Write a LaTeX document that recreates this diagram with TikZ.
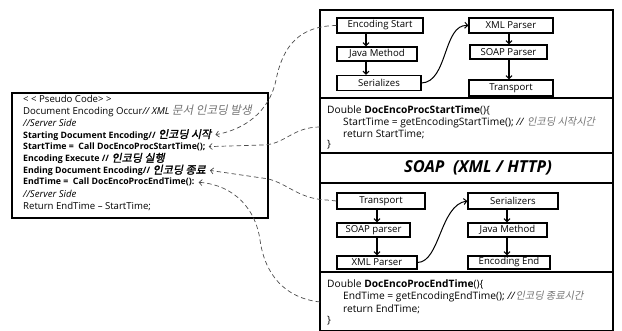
\documentclass[tikz,border=0pt]{standalone}
\usepackage{fontspec}
\setmainfont{Open Sans}
\newfontfamily\kr{Noto Sans CJK KR}[FakeSlant=0.2]
\newfontfamily\krb{Noto Sans CJK KR}[FakeSlant=0.2,FakeBold=1.5]
\usetikzlibrary{arrows.meta}
\tikzset{
  fbox/.style={draw, line width=1.2pt, fill=white, inner sep=0pt, font=\fontsize{9.6}{10}\selectfont},
  ln/.style={anchor=west, inner sep=0pt, font=\fontsize{9.6}{10}\selectfont},
  cd/.style={anchor=west, inner sep=0pt, font=\fontsize{10.2}{11}\selectfont},
  dn/.style={-{Straight Barb[length=3pt,width=6pt]}, line width=1.1pt},
  cv/.style={-{Straight Barb[length=3pt,width=6pt]}, line width=1pt},
  dsh/.style={draw=black!70, line width=0.7pt, dash pattern=on 4.5pt off 3pt},
  dsha/.style={dsh, -{Straight Barb[length=3pt,width=6pt]}},
  frame/.style={line width=1.1pt},
}
\newcommand{\kc}[1]{{\color{black!55}\kr #1}}
\newcommand{\klc}[1]{{\color{black!55}\fontsize{11.6}{10}\selectfont\kr #1}}
\newcommand{\klb}[1]{{\fontsize{11}{10}\selectfont\krb #1}}
\newcommand{\bl}[1]{{\fontsize{8.8}{10}\selectfont\bfseries #1}}
\begin{document}
\begin{tikzpicture}[x=1pt,y=-1pt]
\useasboundingbox (0,0) rectangle (622,331);
% left pseudo code box
\draw[frame] (12,93) rectangle (268,218);
\node[ln] (l1) at (23,99) {<~<~Pseudo Code>~>};
\node[ln] (l2) at (23,110.9) {Document Encoding Occur\textit{// XML} \klc{문서 인코딩 발생}};
\node[ln] (l3) at (23,122.8) {\textit{//Server Side}};
\node[ln] (l4) at (23,134.7) {\bl{Starting Document Encoding//} \klb{인코딩 시작}};
\node[ln] (l5) at (23,146.6) {\bl{StartTime =~~Call DocEncoProcStartTime();}};
\node[ln] (l6) at (23,158.5) {\bl{Encoding Execute //} \klb{인코딩 실행}};
\node[ln] (l7) at (23,170.4) {\bl{Ending Document Encoding//} \klb{인코딩 종료}};
\node[ln] (l8) at (23,182.3) {\bl{EndTime =~~Call DocEncoProcEndTime():}};
\node[ln] (l9) at (23,194.2) {\textit{//Server Side}};
\node[ln] (l10) at (23,206.1) {Return EndTime -- StartTime;};
% right frame
\draw[frame] (320,10) rectangle (613,330.5);
\draw[frame] (320,98) -- (613,98);
\draw[frame] (320,153) -- (613,153);
\draw[frame] (320,183) -- (613,183);
\draw[frame] (320,272) -- (613,272);
% top diagram
\node[fbox, minimum width=86pt, minimum height=15pt] (es) at (380,25.5) {Encoding Start};
\node[fbox, minimum width=80pt, minimum height=14pt] (jm) at (377,54) {Java Method};
\node[fbox, minimum width=84pt, minimum height=15pt] (se) at (379,83) {Serializes};
\node[fbox, minimum width=84pt, minimum height=15pt] (xp) at (511,25.5) {XML Parser};
\node[fbox, minimum width=77pt, minimum height=14pt] (sp) at (508.5,52) {SOAP Parser};
\node[fbox, minimum width=84pt, minimum height=16pt] (tp) at (511,88) {Transport};
\draw[dn] ([xshift=-14pt]es.south) -- ([xshift=-14pt]es.south |- jm.north);
\draw[dn] ([xshift=-11pt]jm.south) -- ([xshift=-11pt]jm.south |- se.north);
\draw[dn] ([xshift=-2pt]xp.south) -- ([xshift=-2pt]xp.south |- sp.north);
\draw[dn] ([xshift=0.5pt]sp.south) -- ([xshift=0.5pt]sp.south |- tp.north);
\draw[cv] (se.east) .. controls (448,82) and (443,24) .. (xp.west);
% top code
\node[cd] (c1) at (327,110) {Double \textbf{DocEncoProcStartTime}()\{};
\node[cd] (c2) at (343,122.5) {StartTime = getEncodingStartTime(); \textit{//} \kc{인코딩 시작시간}};
\node[cd] (c3) at (343,134) {return StartTime;};
\node[cd] (c4) at (327,145) {\}};
% SOAP band
\node[inner sep=0pt, font=\bfseries\itshape\fontsize{16.5}{18}\selectfont] (soap) at (478,168) {SOAP~~(XML / HTTP)};
% lower diagram
\node[fbox, minimum width=88pt, minimum height=16pt] (tr) at (381,201) {Transport};
\node[fbox, minimum width=73pt, minimum height=14pt] (sp2) at (373.5,230) {SOAP parser};
\node[fbox, minimum width=80pt, minimum height=13pt] (xp2) at (377,262.5) {XML Parser};
\node[fbox, minimum width=90pt, minimum height=16pt] (sz) at (513,201) {Serializers};
\node[fbox, minimum width=79pt, minimum height=14pt] (jm2) at (507.5,230) {Java Method};
\node[fbox, minimum width=82pt, minimum height=13pt] (ee) at (509,262.5) {Encoding End};
\draw[dn] ([xshift=-4pt]tr.south) -- ([xshift=-4pt]tr.south |- sp2.north);
\draw[dn] ([xshift=3.5pt]sp2.south) -- ([xshift=3.5pt]sp2.south |- xp2.north);
\draw[dn] ([xshift=-6pt]sz.south) -- ([xshift=-6pt]sz.south |- jm2.north);
\draw[dn] ([xshift=-0.5pt]jm2.south) -- ([xshift=-0.5pt]jm2.south |- ee.north);
\draw[cv] (xp2.east) .. controls (440,262) and (440,205) .. (sz.west);
% lower code
\node[cd] (d1) at (327,284) {Double \textbf{DocEncoProcEndTime}()\{};
\node[cd] (d2) at (343,297) {EndTime = getEncodingEndTime(); \textit{//}\kc{인코딩 종료시간}};
\node[cd] (d3) at (343,309) {return EndTime;};
\node[cd] (d4) at (327,321) {\}};
% dashed connectors
\coordinate (topcode) at (320,127);
\coordinate (botcode) at (320,302);
\draw[dsha] (es.west) .. controls (300,26) and (283,45) .. (276,80)
   .. controls (271,105) and (252,128) .. ([xshift=4pt]l4.east);
\draw[dsha] (topcode) .. controls (292,127) and (285,145) .. (262,145) -- ([xshift=3pt]l5.east);
\draw[dsha] (tr.west) -- (327,200) .. controls (296,199) and (285,180) .. (262,178) -- ([xshift=4pt]l7.east);
\draw[dsha] (botcode) .. controls (285,298) and (265,275) .. (260,240)
   .. controls (256,210) and (235,185) .. ([xshift=4pt]l8.east);
\end{tikzpicture}
\end{document}
